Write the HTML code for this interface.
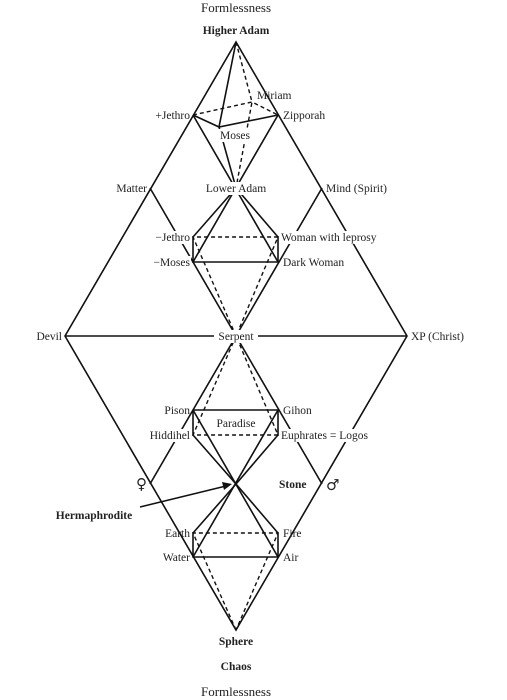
<!DOCTYPE html>
<html><head><meta charset="utf-8"><style>
html,body{margin:0;padding:0;background:#fff;}
svg{display:block;}
text{font-family:"Liberation Serif",serif;font-size:11.5px;fill:#222;}
.b{font-weight:bold;}
</style></head><body>
<svg width="507" height="700" viewBox="0 0 507 700">
<g stroke="#111" stroke-width="1.6" fill="none">
<polygon points="236,42 65,336 236,630 407,336"/>
<line x1="65" y1="336" x2="407" y2="336"/>
<line x1="150" y1="188" x2="322" y2="484"/>
<line x1="322" y1="188" x2="150" y2="484"/>
<line x1="193" y1="115" x2="278" y2="262"/>
<line x1="278" y1="115" x2="193" y2="262"/>
<polyline points="236,42 219,127 236,188"/>
<polyline points="193,115 219,127 278,115"/>
<polyline points="236,188 193,237 193,262 278,262 278,237 236,188"/>
<line x1="193" y1="410" x2="278" y2="557"/>
<line x1="278" y1="410" x2="193" y2="557"/>
<polyline points="193,410 278,410 278,435 236,484 193,435 193,410"/>
<polyline points="236,484 193,533 193,557 278,557 278,533 236,484"/>
</g>
<g stroke="#111" stroke-width="1.4" fill="none" stroke-dasharray="4,3">
<polyline points="236,42 252,102 236,188"/>
<polyline points="193,115 252,102 278,115"/>
<polyline points="236,336 193,237 278,237 236,336"/>
<polyline points="236,336 193,435 278,435 236,336"/>
<polyline points="236,630 193,533 278,533 236,630"/>
</g>
<g>
<line x1="140" y1="507" x2="226" y2="486" stroke="#111" stroke-width="1.5"/>
<polygon points="232,484 222,482 224,490" fill="#111"/>
</g>
<g fill="#fff">
<rect x="200" y="182" width="72" height="13"/>
<rect x="217" y="129" width="36" height="13"/>
<rect x="214" y="330" width="44" height="13"/>
<rect x="280" y="231" width="110" height="13"/>
<rect x="280" y="429" width="132" height="13"/>
<rect x="140" y="231" width="51" height="13"/>
<rect x="143" y="429" width="48" height="13"/>
<rect x="140" y="256" width="51" height="13"/>
</g>
<text x="236" y="12" text-anchor="middle" style="font-size:13px">Formlessness</text>
<text x="236" y="34" text-anchor="middle" class="b">Higher Adam</text>
<text x="257" y="99">Miriam</text>
<text x="190" y="119" text-anchor="end">+Jethro</text>
<text x="283" y="119">Zipporah</text>
<text x="235" y="139" text-anchor="middle">Moses</text>
<text x="147" y="192" text-anchor="end">Matter</text>
<text x="236" y="192" text-anchor="middle">Lower Adam</text>
<text x="326" y="192">Mind (Spirit)</text>
<text x="190" y="241" text-anchor="end">−Jethro</text>
<text x="281" y="241">Woman with leprosy</text>
<text x="190" y="266" text-anchor="end">−Moses</text>
<text x="283" y="266">Dark Woman</text>
<text x="62" y="340" text-anchor="end">Devil</text>
<text x="236" y="340" text-anchor="middle">Serpent</text>
<text x="411" y="340">XP (Christ)</text>
<text x="190" y="414" text-anchor="end">Pison</text>
<text x="283" y="414">Gihon</text>
<text x="236" y="427" text-anchor="middle">Paradise</text>
<text x="190" y="439" text-anchor="end">Hiddihel</text>
<text x="281" y="439">Euphrates = Logos</text>
<text x="147" y="489" text-anchor="end" style="font-size:15px;font-family:'DejaVu Sans',sans-serif">♀</text>
<text x="279" y="488" class="b">Stone</text>
<text x="326" y="490" style="font-size:15px;font-family:'DejaVu Sans',sans-serif">♂</text>
<text x="94" y="519" text-anchor="middle" class="b">Hermaphrodite</text>
<text x="190" y="537" text-anchor="end">Earth</text>
<text x="283" y="537">Fire</text>
<text x="190" y="561" text-anchor="end">Water</text>
<text x="283" y="561">Air</text>
<text x="236" y="645" text-anchor="middle" class="b">Sphere</text>
<text x="236" y="670" text-anchor="middle" class="b">Chaos</text>
<text x="236" y="696" text-anchor="middle" style="font-size:13px">Formlessness</text>
</svg>
</body></html>
